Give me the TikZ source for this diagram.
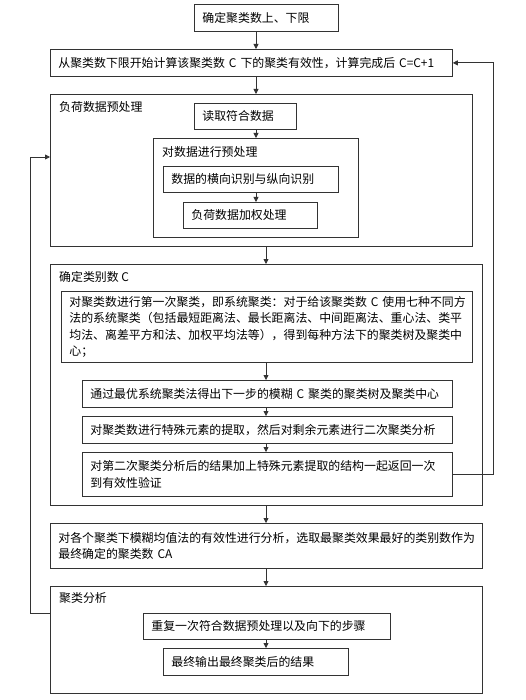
\documentclass[tikz,border=0pt]{standalone}
\usepackage{fontspec}
\usetikzlibrary{arrows.meta,calc}
\newfontfamily\cjkfont{Noto Sans CJK SC}
\definecolor{lineg}{gray}{0.2}
\tikzset
{
    % Style for a single step of the procedure
    proc box/.style=
    {
        draw=lineg,
        line width=0.8pt,
        shape=rectangle,
        anchor=north west,
        inner xsep=8pt,
        inner ysep=2pt,
        align=left,
        font=\cjkfont\fontsize{11.9}{16.5}\selectfont
    },
    % Size of a step: width and height, the text fills the width
    box size/.code 2 args=
    {
        \pgfmathsetlengthmacro\boxtw{#1-16pt}
        \tikzset{minimum width=#1, minimum height=#2, text width=\boxtw}
    },
    % Style for a frame that holds several steps
    group frame/.style=
    {
        draw=lineg,
        line width=0.8pt,
        shape=rectangle,
        anchor=north west,
        inner sep=0pt
    },
    % Style for the title in the corner of a frame
    group title/.style=
    {
        anchor=west,
        inner sep=0pt,
        font=\cjkfont\fontsize{11.9}{16.5}\selectfont
    },
    % Style for the arrows between the steps
    flow/.style=
    {
        draw=lineg,
        line width=0.8pt,
        -{Triangle[length=5pt,width=5pt]}
    }
}

\begin{document}
\begin{tikzpicture}[x=1pt,y=-1pt]
    % Fix the bounding box
    \path [use as bounding box] (0,0) rectangle (525,700);

    % Columns of the arrows
    \coordinate (colA) at (256,0);
    \coordinate (colB) at (266,0);
    %% Columns of the return lines
    \coordinate (rback) at (493,0);
    \coordinate (lback) at (30,0);

    % Top steps
    \node (b1) [proc box, box size={144pt}{27pt}] at (194,4) {确定聚类数上、下限};
    \node (b2) [proc box, box size={402pt}{27pt}] at (50,49)
        {从聚类数下限开始计算该聚类数~C~下的聚类有效性，计算完成后~C=C+1};

    % Load data preprocessing
    \node (g1) [group frame, minimum width=422pt, minimum height=152pt] at (50,94) {};
    \node at ($(g1.north west)+(9,13)$) [group title] {负荷数据预处理};
    \node (r1) [proc box, box size={102pt}{26pt}] at (194,103) {读取符合数据};
    %% Inner frame
    \node (g1a) [group frame, minimum width=205pt, minimum height=99pt] at (153,138) {};
    \node at ($(g1a.north west)+(9,14)$) [group title] {对数据进行预处理};
    \node (r2) [proc box, box size={175pt}{26pt}] at (163,166) {数据的横向识别与纵向识别};
    \node (r3) [proc box, box size={134pt}{26pt}] at (183,202) {负荷数据加权处理};

    % Number of classes
    \node (g2) [group frame, minimum width=432pt, minimum height=241pt] at (50,264) {};
    \node at ($(g2.north west)+(9,13)$) [group title] {确定类别数~C};
    \node (s1) [proc box, inner xsep=7pt, box size={411pt}{71pt}] at (61,291)
        {对聚类数进行第一次聚类，即系统聚类：对于给该聚类数~C~使用七种不同方\\
         法的系统聚类（包括最短距离法、最长距离法、中间距离法、重心法、类平\\
         均法、离差平方和法、加权平均法等），得到每种方法下的聚类树及聚类中\\
         心；};
    \node (s2) [proc box, box size={370pt}{27pt}] at (82,380)
        {通过最优系统聚类法得出下一步的模糊~C~聚类的聚类树及聚类中心};
    \node (s3) [proc box, box size={370pt}{27pt}] at (82,416)
        {对聚类数进行特殊元素的提取，然后对剩余元素进行二次聚类分析};
    \node (s4) [proc box, box size={370pt}{44pt}] at (82,452)
        {对第二次聚类分析后的结果加上特殊元素提取的结构一起返回一次\\到有效性验证};

    % Choice of the final number
    \node (b3) [proc box, box size={432pt}{45pt}] at (50,523)
        {对各个聚类下模糊均值法的有效性进行分析，选取最聚类效果最好的类别数作为\\最终确定的聚类数~CA};

    % Cluster analysis
    \node (g3) [group frame, minimum width=432pt, minimum height=107pt] at (50,586) {};
    \node at ($(g3.north west)+(9,12)$) [group title] {聚类分析};
    \node (t1) [proc box, box size={247pt}{26pt}] at (143,613) {重复一次符合数据预处理以及向下的步骤};
    \node (t2) [proc box, box size={185pt}{27pt}] at (163,648) {最终输出最终聚类后的结果};

    % Arrows down
    \draw[flow] (b1.south -| colA) -- (b2.north -| colA);
    \draw[flow] (b2.south -| colA) -- (g1.north -| colA);
    \draw[flow] (r1.south -| colA) -- (g1a.north -| colA);
    \draw[flow] (r2.south -| colA) -- (r3.north -| colA);
    \draw[flow] (g1.south -| colB) -- (g2.north -| colB);
    \draw[flow] (s1.south -| colB) -- (s2.north -| colB);
    \draw[flow] (s2.south -| colB) -- (s3.north -| colB);
    \draw[flow] (s3.south -| colB) -- (s4.north -| colB);
    \draw[flow] (g2.south -| colB) -- (b3.north -| colB);
    \draw[flow] (b3.south -| colB) -- (g3.north -| colB);
    \draw[flow] (t1.south -| colB) -- (t2.north -| colB);

    % Return lines
    %% Back to the validity step
    \draw[flow] (s4.east) -- (s4.east -| rback) |- (b2.east);
    %% Back to the preprocessing
    \coordinate (loopout) at ($(g3.north west)+(0,27)$);
    \coordinate (loopin) at ($(g1.north west)+(0,63)$);
    \draw[flow] (loopout) -- (loopout -| lback) |- (loopin);
\end{tikzpicture}
\end{document}
